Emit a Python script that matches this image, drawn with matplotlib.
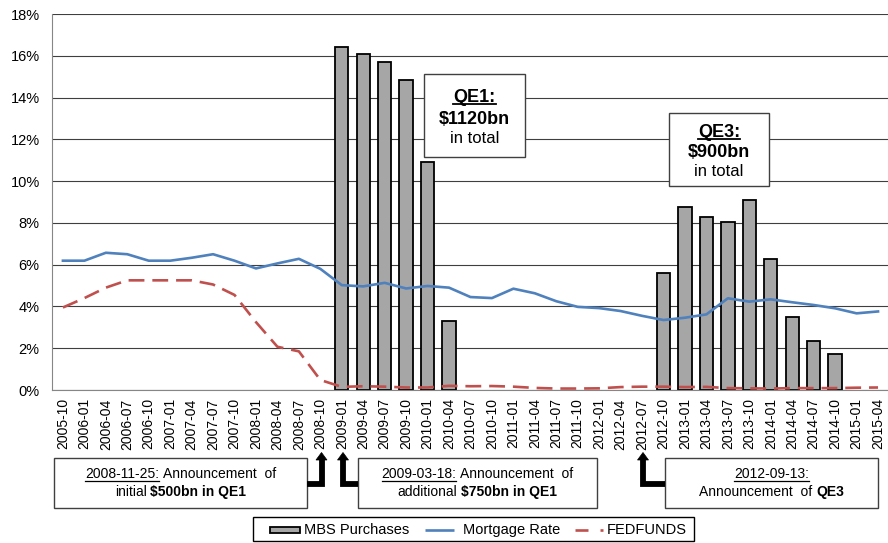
import matplotlib
matplotlib.use('Agg')
import matplotlib.pyplot as plt
from matplotlib.lines import Line2D
from matplotlib.patches import Rectangle, Polygon
import numpy as np

plt.rcParams['font.family'] = ['Liberation Sans', 'DejaVu Sans']

quarters = ['2005-10',
            '2006-01', '2006-04', '2006-07', '2006-10',
            '2007-01', '2007-04', '2007-07', '2007-10',
            '2008-01', '2008-04', '2008-07', '2008-10',
            '2009-01', '2009-04', '2009-07', '2009-10',
            '2010-01', '2010-04', '2010-07', '2010-10',
            '2011-01', '2011-04', '2011-07', '2011-10',
            '2012-01', '2012-04', '2012-07', '2012-10',
            '2013-01', '2013-04', '2013-07', '2013-10',
            '2014-01', '2014-04', '2014-07', '2014-10',
            '2015-01', '2015-04']

nan = np.nan
# MBS purchases, % (only during QE1 and QE3)
mbs = [nan, nan, nan, nan, nan, nan, nan, nan, nan, nan, nan, nan, nan,
       16.43, 16.1, 15.68, 14.83, 10.92, 3.32,
       nan, nan, nan, nan, nan, nan, nan, nan, nan,
       5.61, 8.74, 8.26, 8.02, 9.09, 6.25, 3.48, 2.36, 1.71,
       nan, nan]

mortgage = [6.19, 6.19, 6.57, 6.50, 6.19, 6.19, 6.33, 6.50, 6.19, 5.82,
            6.06, 6.28, 5.80, 5.02, 4.96, 5.13, 4.86, 4.98, 4.90, 4.45,
            4.40, 4.85, 4.63, 4.25, 3.98, 3.92, 3.78, 3.55, 3.35, 3.46,
            3.62, 4.39, 4.23, 4.34, 4.20, 4.07, 3.91, 3.67, 3.76]

fedfunds = [3.95, 4.40, 4.90, 5.25, 5.25, 5.25, 5.25, 5.05, 4.55, 3.25,
            2.07, 1.85, 0.48, 0.15, 0.18, 0.16, 0.12, 0.12, 0.20, 0.18,
            0.19, 0.16, 0.10, 0.07, 0.07, 0.08, 0.14, 0.16, 0.16, 0.14,
            0.15, 0.09, 0.08, 0.07, 0.09, 0.09, 0.09, 0.11, 0.12]

series_names = ['MBS Purchases', 'Mortgage Rate', 'FEDFUNDS']

W, H = 888, 543
fig = plt.figure(figsize=(W / 100, H / 100), dpi=100)
ax = fig.add_axes([52.2 / W, 153 / H, 39 * 21.45 / W, 376 / H])

x = np.arange(len(quarters))
ax.bar(x, mbs, width=0.62, color='#a6a6a6', edgecolor='black', linewidth=1.3, zorder=2)
ax.plot(x, mortgage, color='#4f81bd', lw=1.9, zorder=3)
ax.plot(x, fedfunds, color='#c0504d', lw=1.9, dashes=(6, 3), zorder=3)

ax.set_xlim(-0.5, len(quarters) - 0.5)
ax.set_ylim(0, 18)
ax.set_yticks(range(0, 19, 2))
ax.set_yticklabels([f'{v}%' for v in range(0, 19, 2)], fontsize=10.5)
ax.set_xticks(x)
ax.set_xticklabels(quarters, rotation=90, fontsize=10)
ax.tick_params(axis='both', length=0)
ax.tick_params(axis='x', pad=6)
ax.tick_params(axis='y', pad=9)
ax.yaxis.grid(True, color='#3f3f3f', lw=0.8)
ax.set_axisbelow(True)
for s in ['top', 'right']:
    ax.spines[s].set_visible(False)
for s in ['left', 'bottom']:
    ax.spines[s].set_color('#868686')

fig.canvas.draw()
r = fig.canvas.get_renderer()


def fx(px):
    return px / W


def fy(py):
    return 1 - py / H


def box(x0, y0, x1, y1, ec='#404040'):
    fig.patches.append(Rectangle((fx(x0), fy(y1)), (x1 - x0) / W, (y1 - y0) / H,
                                 transform=fig.transFigure, facecolor='white',
                                 edgecolor=ec, lw=1, zorder=5))


def text_width(s, size, bold):
    t = fig.text(0, 0, s, fontsize=size, weight='bold' if bold else 'normal')
    w = t.get_window_extent(r).width
    t.remove()
    return w


def rich_line(cx, base, parts, size):
    # parts: (text, bold, underline); parts are joined by one space
    sp = text_width('a a', size, False) - text_width('aa', size, False)
    ws = [text_width(s, size, b) for s, b, u in parts]
    total = sum(ws) + sp * (len(parts) - 1)
    xp = cx - total / 2
    for (s, b, u), w in zip(parts, ws):
        fig.text(fx(xp), fy(base), s, fontsize=size, weight='bold' if b else 'normal',
                 ha='left', va='baseline', zorder=6)
        if u:
            fig.lines.append(Line2D([fx(xp), fx(xp + w)], [fy(base + 2), fy(base + 2)],
                                    transform=fig.transFigure, color='black',
                                    lw=0.9 if not b else 1.3, zorder=6))
        xp += w + sp


def elbow_arrow(xb, yb, xs, ytop):
    fig.lines.append(Line2D([fx(xb), fx(xs), fx(xs)], [fy(yb), fy(yb), fy(ytop + 7)],
                            transform=fig.transFigure, color='black', lw=4.2,
                            solid_joinstyle='miter', solid_capstyle='butt', zorder=6))
    head = Polygon([(fx(xs - 5.5), fy(ytop + 7.5)), (fx(xs + 5.5), fy(ytop + 7.5)),
                    (fx(xs), fy(ytop))], closed=True, transform=fig.transFigure,
                   facecolor='black', edgecolor='black', lw=0.5, zorder=6)
    fig.patches.append(head)


def hline(x0, x1, y, color, lw=1.9):
    fig.lines.append(Line2D([fx(x0), fx(x1)], [fy(y), fy(y)], transform=fig.transFigure,
                            color=color, lw=lw, solid_capstyle='butt', zorder=6))


# QE totals
box(424, 74, 525, 157)
rich_line(474.5, 101.5, [('QE1:', True, True)], 13)
rich_line(474.5, 124, [('$1120bn', True, False)], 13)
rich_line(474.5, 143.5, [('in total', False, False)], 12)

box(669, 113, 769, 186)
rich_line(719, 136.5, [('QE3:', True, True)], 13)
rich_line(719, 157, [('$900bn', True, False)], 13)
rich_line(719, 176, [('in total', False, False)], 12)

# announcements
box(54, 458, 307, 508)
rich_line(180.5, 478.5, [('2008-11-25:', False, True), ('Announcement  of', False, False)], 10)
rich_line(180.5, 496, [('initial', False, False), ('$500bn in QE1', True, False)], 10)

box(358, 458, 597, 508)
rich_line(477.5, 478.5, [('2009-03-18:', False, True), ('Announcement  of', False, False)], 10)
rich_line(477.5, 496, [('additional', False, False), ('$750bn in QE1', True, False)], 10)

box(665, 458, 878, 508)
rich_line(771.5, 478.5, [('2012-09-13:', False, True)], 10)
rich_line(771.5, 496, [('Announcement  of', False, False), ('QE3', True, False)], 10)

elbow_arrow(307, 483.5, 321.5, 452.5)
elbow_arrow(358, 483.5, 343, 452.5)
elbow_arrow(665, 483.5, 643, 452.5)

# legend, laid out by hand so all labels share a baseline
box(253, 517, 694, 541, ec='black')
fig.patches.append(Rectangle((fx(270), fy(532.5)), 30 / W, 5.5 / H, transform=fig.transFigure,
                             facecolor='#a6a6a6', edgecolor='black', lw=1.3, zorder=6))
hline(425, 454, 529.5, '#4f81bd')
hline(575, 588, 529.5, '#c0504d')
hline(600, 603, 529.5, '#c0504d')
for xt, name in zip([304, 463, 607], series_names):
    fig.text(fx(xt), fy(534), name, fontsize=10.5, ha='left', va='baseline', zorder=6)

fig.savefig('out.png', dpi=100)
